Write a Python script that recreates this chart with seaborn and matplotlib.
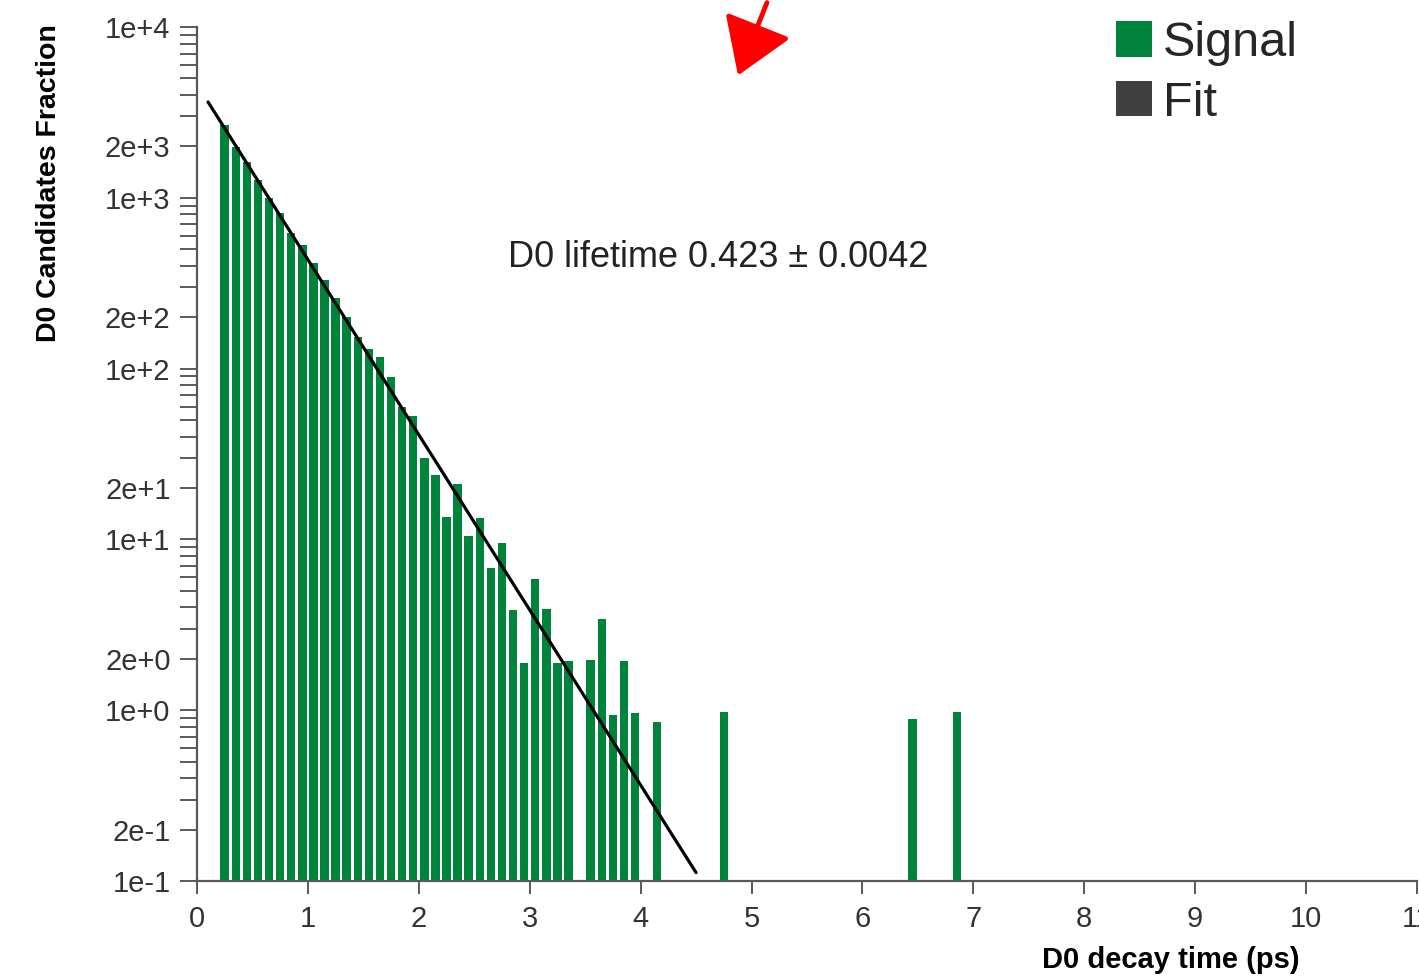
import matplotlib
matplotlib.use("Agg")
import matplotlib.pyplot as plt
from matplotlib.patches import Patch, FancyArrowPatch
from matplotlib.ticker import LogLocator, FuncFormatter, MultipleLocator
import seaborn as sns
import pandas as pd
import numpy as np

# histogram bin centres (ps) and signal heights (empty bins left out)
decay_time = [0.25, 0.35, 0.45, 0.55, 0.65, 0.75, 0.85, 0.95, 1.05, 1.15,
              1.25, 1.35, 1.45, 1.55, 1.65, 1.75, 1.85, 1.95, 2.05, 2.15,
              2.25, 2.35, 2.45, 2.55, 2.65, 2.75, 2.85, 2.95, 3.05, 3.15,
              3.25, 3.35, 3.55, 3.65, 3.75, 3.85, 3.95, 4.15, 4.75, 6.45, 6.85]
signal = [2668, 1992, 1627, 1271, 997, 815, 622, 529, 415, 330,
          259, 200, 153, 130, 117, 89.7, 59.8, 52.8, 29.9, 23.8,
          13.5, 21.1, 10.5, 13.3, 6.8, 9.5, 3.86, 1.89, 5.9, 3.91,
          1.89, 1.94, 1.97, 3.44, 0.94, 1.94, 0.96, 0.85, 0.97, 0.89, 0.98]

# exponential fit drawn as a straight line on the log axis
fit_time = [0.1, 4.5]
fit_value = [3640, 0.112]

lifetime_text = "D0 lifetime 0.423 \u00b1 0.0042"
legend_labels = ["Signal", "Fit"]

green = "#00843c"
fit_grey = "#404040"
axis_grey = "#5a5a5a"

sns.set_theme(style="white")
plt.rcParams["font.family"] = ["Liberation Sans", "DejaVu Sans"]

fig = plt.figure(figsize=(14.19, 9.80), dpi=100)
ax = fig.add_axes([0.1388, 0.1010, 0.8598, 0.8714])

hist_df = pd.DataFrame({"t": decay_time, "n": signal})
fit_df = pd.DataFrame({"t": fit_time, "n": fit_value})

bin_edges = [round(0.2 + 0.1 * i, 2) for i in range(68)]
sns.histplot(data=hist_df, x="t", weights="n", bins=bin_edges, shrink=0.76,
             color=green, alpha=1, edgecolor="none", linewidth=0, ax=ax)
sns.lineplot(data=fit_df, x="t", y="n", color="black", linewidth=2.3, ax=ax)

ax.set_yscale("log")
ax.set_ylim(0.1, 1e4)
ax.set_xlim(0, 11)

ax.yaxis.set_major_locator(LogLocator(base=10, subs=(1.0, 2.0)))
ax.yaxis.set_minor_locator(LogLocator(base=10, subs=(3, 4, 5, 6, 7, 8, 9)))


def sci(v, pos):
    e = int(np.floor(np.log10(v) + 1e-9))
    m = int(round(v / 10 ** e))
    return f"{m}e{e:+d}"


ax.yaxis.set_major_formatter(FuncFormatter(sci))
ax.yaxis.set_minor_formatter(FuncFormatter(lambda v, p: ""))
ax.xaxis.set_major_locator(MultipleLocator(1))

for s in ["top", "right"]:
    ax.spines[s].set_visible(False)
for s in ["left", "bottom"]:
    ax.spines[s].set_color(axis_grey)
    ax.spines[s].set_linewidth(1.6)

ax.tick_params(axis="y", which="both", direction="out", length=12, width=1.4,
               color=axis_grey, labelsize=21, labelcolor="#333333", pad=7, left=True)
ax.tick_params(axis="x", which="major", direction="out", length=9, width=1.4,
               color=axis_grey, labelsize=21, labelcolor="#333333", pad=8, bottom=True)
ax.set_xlabel("")
ax.set_ylabel("")

fig.text(49 / 1419, 1 - 24 / 980, "D0 Candidates Fraction", rotation=90,
         ha="center", va="top", fontsize=20.5, fontweight="bold", color="black")
fig.text(1300 / 1419, 1 - 960 / 980, "D0 decay time (ps)", ha="right", va="center",
         fontsize=21, fontweight="bold", color="black")

ax.text(4.70, 450, lifetime_text, ha="center", va="center", fontsize=26, color="#222222")

handles = [Patch(facecolor=green, edgecolor="none"), Patch(facecolor=fit_grey, edgecolor="none")]
fig.legend(handles=handles, labels=legend_labels, loc="upper left",
           bbox_to_anchor=(1116 / 1419, 1 - 21 / 980), bbox_transform=fig.transFigure,
           frameon=False, fontsize=35, handlelength=0.74, handleheight=0.74,
           handletextpad=0.22, labelspacing=0.3, borderpad=0, borderaxespad=0)

# red hand-drawn style arrow at the top
fig.add_artist(FancyArrowPatch(
    (768 / 1419, 1.0), (737 / 1419, 1 - 78 / 980), transform=fig.transFigure,
    arrowstyle="-|>,head_length=17,head_width=11", color="red", linewidth=3.5,
    mutation_scale=2))

fig.savefig("out.png", dpi=100)
